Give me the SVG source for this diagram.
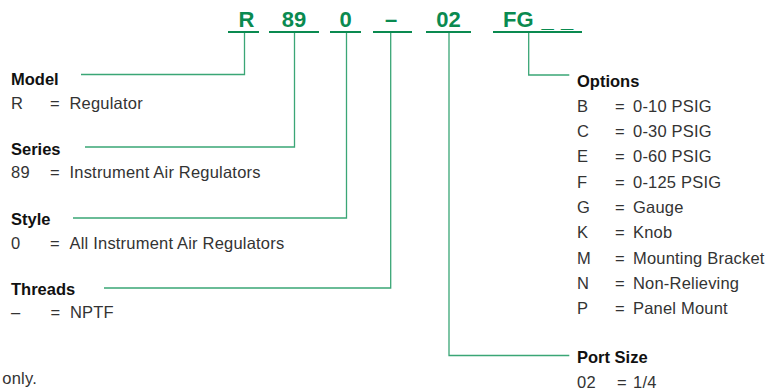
<svg xmlns="http://www.w3.org/2000/svg" width="769" height="390" viewBox="0 0 769 390">
<style>
.code{font-family:"Liberation Sans",Arial,sans-serif;font-weight:bold;font-size:22px;fill:#0a8a50;text-anchor:middle}
.uline{stroke:#0a8a50;stroke-width:2;fill:none}
.conn{stroke:#3aa676;stroke-width:1.3;fill:none}
.h{font-family:"Liberation Sans",Arial,sans-serif;font-weight:bold;font-size:16.5px;fill:#111}
.t{font-family:"Liberation Sans",Arial,sans-serif;font-size:16.5px;fill:#333;letter-spacing:0.2px}
</style>
<rect width="769" height="390" fill="#fff"/>
<g id="code">
<g id="code-R"><text class="code" x="246.5" y="26.7">R</text><line class="uline" x1="228" y1="32" x2="259" y2="32"/></g>
<g id="code-89"><text class="code" x="294" y="26.7">89</text><line class="uline" x1="269" y1="32" x2="319" y2="32"/></g>
<g id="code-0"><text class="code" x="345.5" y="26.7">0</text><line class="uline" x1="330" y1="32" x2="361" y2="32"/></g>
<g id="code-dash"><text class="code" x="391" y="26.7">–</text><line class="uline" x1="373" y1="32" x2="412" y2="32"/></g>
<g id="code-02"><text class="code" x="448.5" y="26.7">02</text><line class="uline" x1="426" y1="32" x2="471" y2="32"/></g>
<g id="code-FG"><text class="code" style="text-anchor:start" y="26.7"><tspan x="503">FG</tspan><tspan x="541.5">_</tspan><tspan x="561">_</tspan></text><line class="uline" x1="493" y1="32" x2="582" y2="32"/></g>
</g>
<g id="connectors">
<polyline class="conn" points="244.5,33 244.5,74.5 81,74.5"/>
<polyline class="conn" points="294.5,33 294.5,147 85,147"/>
<polyline class="conn" points="346.5,33 346.5,218 73,218"/>
<polyline class="conn" points="390.7,33 390.7,288 104,288"/>
<polyline class="conn" points="449,33 449,355.5 569.3,355.5"/>
<polyline class="conn" points="528.7,33 528.7,75 569.3,75"/>
</g>
<g id="model">
<text class="h" x="11" y="84.5">Model</text>
<text class="t" y="109"><tspan x="11">R</tspan><tspan x="50">=</tspan><tspan x="69.5">Regulator</tspan></text>
</g>
<g id="series">
<text class="h" x="11" y="154.5">Series</text>
<text class="t" y="178"><tspan x="11">89</tspan><tspan x="50">=</tspan><tspan x="69.5">Instrument Air Regulators</tspan></text>
</g>
<g id="style">
<text class="h" x="11" y="224.5">Style</text>
<text class="t" y="248.5"><tspan x="11">0</tspan><tspan x="50">=</tspan><tspan x="69.5">All Instrument Air Regulators</tspan></text>
</g>
<g id="threads">
<text class="h" x="11" y="294.5">Threads</text>
<text class="t" y="317.5"><tspan x="11">–</tspan><tspan x="50.5">=</tspan><tspan x="70">NPTF</tspan></text>
</g>
<g id="footnote">
<text class="t" x="37" y="383.5" style="text-anchor:end">only.</text>
</g>
<g id="options">
<text class="h" x="577" y="86.5">Options</text>
<text class="t" y="111.7"><tspan x="577">B</tspan><tspan x="615">=</tspan><tspan x="633">0-10 PSIG</tspan></text>
<text class="t" y="137"><tspan x="577">C</tspan><tspan x="615">=</tspan><tspan x="633">0-30 PSIG</tspan></text>
<text class="t" y="162.3"><tspan x="577">E</tspan><tspan x="615">=</tspan><tspan x="633">0-60 PSIG</tspan></text>
<text class="t" y="187.6"><tspan x="577">F</tspan><tspan x="615">=</tspan><tspan x="633">0-125 PSIG</tspan></text>
<text class="t" y="213"><tspan x="577">G</tspan><tspan x="615">=</tspan><tspan x="633">Gauge</tspan></text>
<text class="t" y="238.3"><tspan x="577">K</tspan><tspan x="615">=</tspan><tspan x="633">Knob</tspan></text>
<text class="t" y="263.6"><tspan x="577">M</tspan><tspan x="615">=</tspan><tspan x="633">Mounting Bracket</tspan></text>
<text class="t" y="289"><tspan x="577">N</tspan><tspan x="615">=</tspan><tspan x="633">Non-Relieving</tspan></text>
<text class="t" y="314.3"><tspan x="577">P</tspan><tspan x="615">=</tspan><tspan x="633">Panel Mount</tspan></text>
</g>
<g id="port-size">
<text class="h" x="577" y="363">Port Size</text>
<text class="t" y="388.3"><tspan x="577">02</tspan><tspan x="617">=</tspan><tspan x="633">1/4</tspan></text>
</g>
</svg>
